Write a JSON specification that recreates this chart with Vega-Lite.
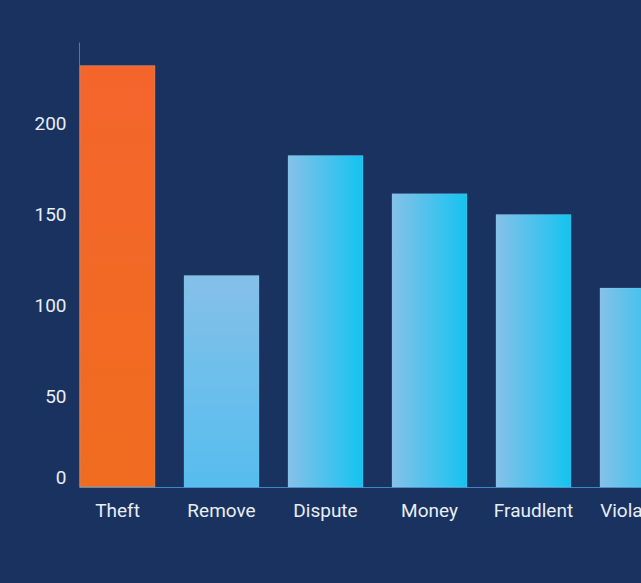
{
  "$schema": "https://vega.github.io/schema/vega-lite/v6.json",
  "autosize": "none",
  "width": 597,
  "height": 445,
  "padding": {"left": 79, "top": 42, "right": -35, "bottom": 96},
  "background": "#1a3260",
  "config": {"view": {"stroke": null}, "font": "Roboto"},
  "data": {
    "values": [
      {"cause": "Theft", "count": 232},
      {"cause": "Remove", "count": 116.5},
      {"cause": "Dispute", "count": 182.5},
      {"cause": "Money", "count": 161.5},
      {"cause": "Fraudlent", "count": 150},
      {"cause": "Violation", "count": 109.5}
    ]
  },
  "mark": {"type": "bar", "stroke": "#9fd4f5", "strokeOpacity": 0.25, "strokeWidth": 1},
  "encoding": {
    "x": {
      "field": "cause",
      "type": "nominal",
      "sort": null,
      "scale": {"paddingInner": 0.279, "paddingOuter": 0.01},
      "axis": {
        "title": null,
        "labelAngle": 0,
        "ticks": false,
        "domainColor": "#3f86c6",
        "domainWidth": 1,
        "labelColor": "#e8eef6",
        "labelFontSize": 19,
        "labelPadding": 14
      }
    },
    "y": {
      "field": "count",
      "type": "quantitative",
      "scale": {"domain": [0, 245], "nice": false},
      "axis": {
        "title": null,
        "grid": false,
        "ticks": false,
        "values": [0, 50, 100, 150, 200],
        "labelFlush": true,
        "labelFlushOffset": 0,
        "domainColor": "#2f82c6",
        "domainWidth": 1,
        "labelColor": "#e8eef6",
        "labelFontSize": 19,
        "labelPadding": 13
      }
    },
    "color": {
      "condition": [
        {
          "test": "datum.cause === 'Theft'",
          "value": {
            "gradient": "linear", "x1": 0, "y1": 0, "x2": 0, "y2": 1,
            "stops": [{"offset": 0, "color": "#f4652c"}, {"offset": 1, "color": "#f06c1f"}]
          }
        },
        {
          "test": "datum.cause === 'Remove'",
          "value": {
            "gradient": "linear", "x1": 0, "y1": 0, "x2": 0, "y2": 1,
            "stops": [{"offset": 0, "color": "#85c0e9"}, {"offset": 1, "color": "#55bdee"}]
          }
        }
      ],
      "value": {
        "gradient": "linear", "x1": 0, "y1": 0, "x2": 1, "y2": 0,
        "stops": [{"offset": 0, "color": "#86c1e9"}, {"offset": 1, "color": "#14c3f0"}]
      }
    }
  }
}
